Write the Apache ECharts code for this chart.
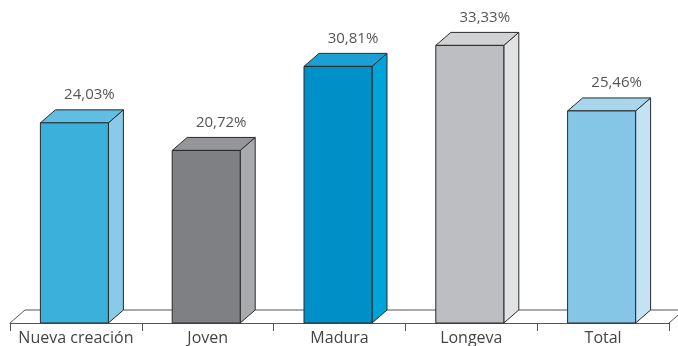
<!DOCTYPE html>
<html>
<head>
<meta charset="utf-8">
<script src="https://cdn.jsdelivr.net/npm/echarts@6/dist/echarts.min.js"></script>
<style>
  html, body { margin: 0; padding: 0; background: #fff; }
  #chart { width: 678px; height: 346px; }
</style>
</head>
<body>
<div id="chart"></div>
<script>
// Share of firms by stage
const categories = ['Nueva creación', 'Joven', 'Madura', 'Longeva', 'Total'];
const values = [24.03, 20.72, 30.81, 33.33, 25.46];

// Face colours per bar: front, top, side
const frontColors = ['#3ab0db', '#7f8083', '#0090c8', '#bdbec1', '#85c6e6'];
const topColors   = ['#5fbee2', '#959699', '#1c9fd3', '#d1d2d4', '#a7d6ee'];
const sideColors  = ['#89c9e9', '#a9aaad', '#00a4d9', '#e1e2e3', '#c3e3f4'];

const DX = 15, DY = -13;       // depth offset of the 3D faces
const BAR_W = 68;
const EDGE = '#2a2a2a';

const chart = echarts.init(document.getElementById('chart'), null, { renderer: 'canvas' });

function fmt(v) {
  return v.toFixed(2).replace('.', ',') + '%';
}

function renderBar(params, api) {
  const i = params.dataIndex;
  const top = api.coord([api.value(0), api.value(1)]);
  const base = api.coord([api.value(0), 0]);
  const cx = top[0] - 1.5;
  const x0 = cx - BAR_W / 2, x1 = cx + BAR_W / 2;
  const yT = top[1], yB = base[1];
  const line = { stroke: EDGE, lineWidth: 1, lineJoin: 'round' };
  return {
    type: 'group',
    children: [
      {
        type: 'polygon',
        shape: { points: [[x1, yB], [x1 + DX, yB + DY], [x1 + DX, yT + DY], [x1, yT]] },
        style: Object.assign({ fill: sideColors[i] }, line)
      },
      {
        type: 'polygon',
        shape: { points: [[x0, yT], [x0 + DX, yT + DY], [x1 + DX, yT + DY], [x1, yT]] },
        style: Object.assign({ fill: topColors[i] }, line)
      },
      {
        type: 'rect',
        shape: { x: x0, y: yT, width: BAR_W, height: yB - yT },
        style: Object.assign({ fill: frontColors[i] }, line)
      },
      {
        type: 'text',
        x: cx + DX,
        y: yT + DY - 15,
        style: {
          text: fmt(values[i]),
          fill: '#555',
          font: '15px "Open Sans", sans-serif',
          align: 'center',
          verticalAlign: 'middle'
        }
      }
    ]
  };
}

// Floor plane behind the bars
function renderFloor(params, api) {
  const cs = params.coordSys;
  const yF = cs.y + cs.height;
  const xL = cs.x, xR = cs.x + cs.width;
  return {
    type: 'polyline',
    shape: { points: [[xL, yF], [xL + DX, yF + DY], [xR + DX, yF + DY], [xR, yF]] },
    style: { stroke: '#555', lineWidth: 1, fill: null }
  };
}

chart.setOption({
  animation: false,
  grid: { left: 10, right: 9, top: 6.5, bottom: 23 },
  xAxis: {
    type: 'category',
    data: categories,
    boundaryGap: true,
    axisLine: { show: true, lineStyle: { color: '#555', width: 1 } },
    axisTick: { show: true, interval: 0, length: 8, lineStyle: { color: '#555' } },
    axisLabel: {
      interval: 0,
      color: '#444',
      fontFamily: 'Open Sans',
      fontSize: 16,
      margin: 7
    }
  },
  yAxis: {
    type: 'value',
    min: 0,
    max: 38,
    show: false,
    splitLine: { show: false }
  },
  series: [
    {
      type: 'custom',
      renderItem: renderFloor,
      data: [[0, 0]],
      z: 1,
      silent: true
    },
    {
      type: 'custom',
      renderItem: renderBar,
      data: values.map((v, i) => [i, v]),
      z: 2,
      silent: true
    }
  ]
});
</script>
</body>
</html>
